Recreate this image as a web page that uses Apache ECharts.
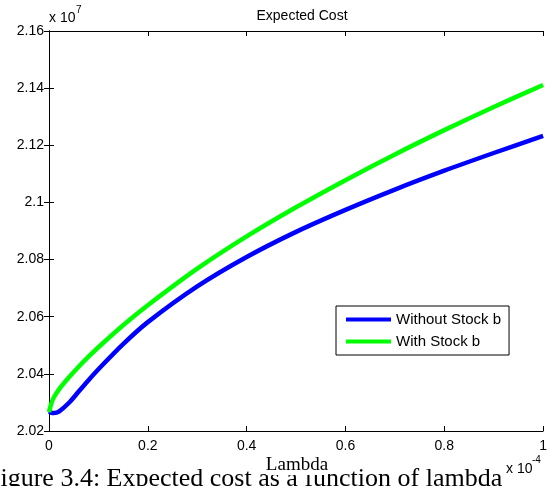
<!DOCTYPE html>
<html>
<head>
<meta charset="utf-8">
<script src="https://cdn.jsdelivr.net/npm/echarts@6/dist/echarts.min.js"></script>
<style>html,body{margin:0;padding:0;background:#fff}#c{width:550px;height:486px}</style>
</head>
<body>
<div id="c"></div>
<script>
// lambda (x 1e-4)
var lambdaVals = [0, 0.005, 0.01, 0.02, 0.04, 0.06, 0.08, 0.1, 0.15, 0.2, 0.3, 0.4, 0.5, 0.6, 0.7, 0.8, 0.9, 1.0];
// expected cost (x 1e7)
var withoutStock = [2.0268, 2.0264, 2.0263, 2.0268, 2.0298, 2.0338, 2.0378, 2.0416, 2.0504, 2.0581, 2.0706, 2.0809, 2.0897, 2.0974, 2.1045, 2.1111, 2.1173, 2.1233];
var withStock    = [2.0266, 2.0298, 2.0318, 2.0345, 2.0387, 2.0425, 2.0460, 2.0493, 2.0570, 2.0640, 2.0768, 2.0881, 2.0983, 2.1078, 2.1168, 2.1253, 2.1334, 2.1411];
var xTicks = [0, 0.2, 0.4, 0.6, 0.8, 1];
var yTicks = [2.02, 2.04, 2.06, 2.08, 2.1, 2.12, 2.14, 2.16];
var seriesNames = ['Without Stock b', 'With Stock b'];

function pairs(ys){ return lambdaVals.map(function(x,i){ return [x, ys[i]]; }); }
var chart = echarts.init(document.getElementById('c'), null, {renderer:'canvas'});
var axisLine = {show:true, lineStyle:{color:'#000', width:1}};
var fontF = 'Liberation Sans, Arial, sans-serif';
var serifF = 'Liberation Serif, Times New Roman, serif';
function fmt(v){ return String(parseFloat(v.toFixed(2))); }
var tick = {show:true, inside:true, length:5, lineStyle:{color:'#000'}};
function txt(left, top, s, size, fam, extra){
  var st = {text:s, fontSize:size, fontFamily:fam, fill:'#000'};
  if (extra) for (var k in extra) st[k] = extra[k];
  return {type:'text', left:left, top:top, style:st};
}
chart.setOption({
  animation:false,
  backgroundColor:'#fff',
  title:{text:'Expected Cost', left:297, top:4, textAlign:'center',
    textStyle:{fontFamily:fontF, fontSize:14, fontWeight:'normal', color:'#000'}},
  grid:{left:49, right:3, top:31, bottom:55, containLabel:false},
  legend:{orient:'vertical', left:336, top:306, data:seriesNames,
    icon:'rect', itemWidth:45, itemHeight:4, itemGap:7,
    padding:[6,8,6,10], borderColor:'#000', borderWidth:1, backgroundColor:'#fff',
    textStyle:{fontFamily:fontF, fontSize:15, color:'#000'}},
  xAxis:[{type:'value', min:0, max:1, interval:0.2, position:'bottom',
      axisLine:axisLine, axisTick:tick, splitLine:{show:false},
      axisLabel:{color:'#000', fontFamily:fontF, fontSize:14, margin:8, formatter:fmt}},
    {type:'value', min:0, max:1, interval:0.2, position:'top',
      axisLine:axisLine, axisTick:tick, splitLine:{show:false}, axisLabel:{show:false}}],
  yAxis:[{type:'value', min:2.02, max:2.16, interval:0.02, position:'left',
      axisLine:axisLine, axisTick:tick, splitLine:{show:false},
      axisLabel:{color:'#000', fontFamily:fontF, fontSize:14, margin:5, formatter:fmt}},
    {type:'value', min:2.02, max:2.16, interval:0.02, position:'right',
      axisLine:axisLine, axisTick:tick, splitLine:{show:false}, axisLabel:{show:false}}],
  series:[
    {name:seriesNames[0], type:'line', data:pairs(withoutStock), smooth:0.3, showSymbol:false,
      itemStyle:{color:'#0000ff'}, lineStyle:{color:'#0000ff', width:4.5}},
    {name:seriesNames[1], type:'line', data:pairs(withStock), smooth:0.3, showSymbol:false,
      itemStyle:{color:'#00ff00'}, lineStyle:{color:'#00ff00', width:4.5}}
  ],
  graphic:[
    (function(){ var g = txt(-14, 466, 'Figure 3.4: Expected cost as a function of lambda', 26, serifF); g.z = -1; return g; })(),
    txt(49, 11, 'x 10', 14, fontF),
    txt(76, 5, '7', 10, fontF),
    txt(506, 462, 'x 10', 14, fontF),
    txt(532, 455, '-4', 10, fontF),
    {type:'text', x:297, y:456, style:{text:'Lambda', align:'center', fontSize:19, fontFamily:serifF,
      fill:'#000', backgroundColor:'#fff'}}
  ]
});
</script>
</body>
</html>
